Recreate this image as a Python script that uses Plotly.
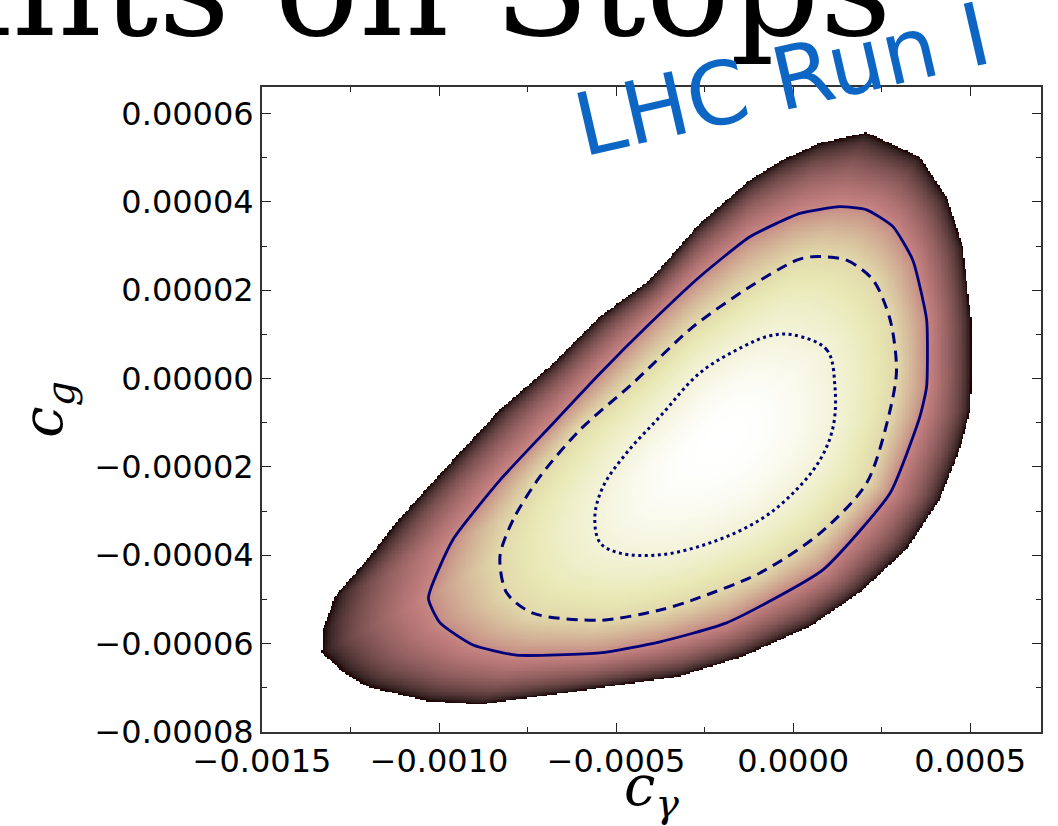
import numpy as np
import plotly.graph_objects as go

# ---------------- data: likelihood regions in the (c_gamma, c_g) plane ----------------
best_fit = (-2.0e-4, -1.4e-5)

# edge of the allowed (shaded) region
edge_cgam = [2.08e-4, 3.58e-4, 4.34e-4, 4.80e-4, 5.04e-4, 5.05e-4, 5.02e-4, 4.71e-4, 4.15e-4,
             3.21e-4, 1.89e-4, 0.48e-4, -1.42e-4, -3.20e-4, -6.40e-4, -8.84e-4, -10.35e-4,
             -12.04e-4, -12.71e-4, -13.31e-4, -13.28e-4, -12.94e-4, -12.04e-4, -11.10e-4,
             -9.69e-4, -8.28e-4, -6.87e-4, -5.45e-4, -4.04e-4, -2.63e-4, -1.22e-4, -0.29e-4,
             0.76e-4]
edge_cg = [5.57e-5, 5.02e-5, 4.12e-5, 2.99e-5, 1.33e-5, 0.19e-5, -0.71e-5, -1.62e-5, -2.75e-5,
           -3.88e-5, -4.85e-5, -5.62e-5, -6.30e-5, -6.75e-5, -7.12e-5, -7.39e-5, -7.31e-5,
           -6.98e-5, -6.66e-5, -6.21e-5, -5.69e-5, -4.94e-5, -4.11e-5, -3.16e-5,
           -1.92e-5, -0.71e-5, 0.27e-5, 1.40e-5, 2.23e-5, 3.51e-5, 4.49e-5, 4.95e-5,
           5.33e-5]

# outer contour (solid)
outer_cgam = [2.08e-4, 2.82e-4, 3.38e-4, 3.77e-4, 3.77e-4, 3.58e-4, 2.74e-4, 0.84e-4, -1.88e-4,
              -3.76e-4, -5.45e-4, -7.81e-4, -9.04e-4, -9.97e-4, -10.30e-4, -9.61e-4, -8.28e-4,
              -6.87e-4, -5.45e-4, -4.04e-4, -2.63e-4, -1.22e-4, 0.19e-4, 1.32e-4]
outer_cg = [3.82e-5, 3.44e-5, 2.68e-5, 1.33e-5, -0.18e-5, -0.86e-5, -2.59e-5, -4.33e-5, -5.53e-5,
            -5.96e-5, -6.21e-5, -6.26e-5, -6.03e-5, -5.53e-5, -4.97e-5, -3.65e-5, -2.30e-5,
            -1.09e-5, 0.12e-5, 1.25e-5, 2.31e-5, 3.21e-5, 3.74e-5, 3.89e-5]

# middle contour (dashed)
middle_cgam = [0.56e-4, 1.51e-4, 2.26e-4, 2.74e-4, 2.92e-4, 2.74e-4, 2.08e-4, 0.76e-4, -0.94e-4,
               -2.83e-4, -3.76e-4, -5.45e-4, -7.35e-4, -8.09e-4, -8.28e-4, -7.91e-4, -7.15e-4,
               -6.02e-4, -4.52e-4, -2.83e-4, -1.22e-4, 0.10e-4]
middle_cg = [2.76e-5, 2.68e-5, 2.23e-5, 1.33e-5, 0.19e-5, -0.71e-5, -2.36e-5, -3.50e-5, -4.40e-5,
             -5.01e-5, -5.24e-5, -5.47e-5, -5.31e-5, -4.85e-5, -4.03e-5, -3.20e-5, -2.22e-5,
             -1.16e-5, -0.10e-5, 1.17e-5, 2.08e-5, 2.68e-5]

# inner contour (dotted)
inner_cgam = [0.00e-4, 0.95e-4, 1.18e-4, 1.13e-4, 0.76e-4, 0.00e-4, -0.94e-4, -2.35e-4, -3.76e-4,
              -4.89e-4, -5.45e-4, -5.60e-4, -5.37e-4, -4.70e-4, -3.76e-4, -2.63e-4, -1.42e-4,
              -0.65e-4]
inner_cg = [0.99e-5, 0.65e-5, -0.18e-5, -1.09e-5, -1.84e-5, -2.59e-5, -3.20e-5, -3.72e-5, -3.99e-5,
            -3.95e-5, -3.72e-5, -3.13e-5, -2.45e-5, -1.68e-5, -0.86e-5, 0.13e-5, 0.72e-5,
            0.97e-5]

# shading value at the best fit, on each contour and on the edge
shade_levels = [1.0, 0.86, 0.68, 0.40, 0.0]

x_range = [-0.0015, 0.0007]
y_range = [-0.00008, 0.000066]

# ---------------- shading field built from the contours ----------------
PX_X = 779 / (x_range[1] - x_range[0])
PX_Y = 645 / (y_range[1] - y_range[0])


def to_px(cx, cy):
    return ((np.asarray(cx) - best_fit[0]) * PX_X,
            (np.asarray(cy) - best_fit[1]) * PX_Y)


def radius_along(cx, cy, theta):
    u, v = to_px(cx, cy)
    u = np.append(u, u[0])
    v = np.append(v, v[0])
    t = np.linspace(0, 1, 60, endpoint=False)
    uu = np.concatenate([u[i] + (u[i + 1] - u[i]) * t for i in range(len(u) - 1)])
    vv = np.concatenate([v[i] + (v[i + 1] - v[i]) * t for i in range(len(v) - 1)])
    ang = np.arctan2(vv, uu)
    rad = np.hypot(uu, vv)
    order = np.argsort(ang)
    return np.interp(theta, ang[order], rad[order], period=2 * np.pi)


gx = np.linspace(x_range[0], x_range[1], 560)
gy = np.linspace(y_range[0], y_range[1], 464)
GX, GY = np.meshgrid(gx, gy)
U, V = to_px(GX, GY)
theta = np.arctan2(V, U)
r2 = U ** 2 + V ** 2

knots = [np.zeros_like(r2),
         radius_along(inner_cgam, inner_cg, theta) ** 2,
         radius_along(middle_cgam, middle_cg, theta) ** 2,
         radius_along(outer_cgam, outer_cg, theta) ** 2,
         radius_along(edge_cgam, edge_cg, theta) ** 2]

field = np.full(r2.shape, np.nan)
for k in range(4):
    lo, hi = knots[k], knots[k + 1]
    m = (r2 >= lo) & (r2 < hi) & np.isnan(field)
    w = (r2[m] - lo[m]) / (hi[m] - lo[m])
    field[m] = shade_levels[k] + (shade_levels[k + 1] - shade_levels[k]) * w
field = field.astype(np.float32)


# ---------------- "pink" colour map ----------------
def pink(t):
    hot = np.clip([t / 0.365079, (t - 0.365079) / 0.380953, (t - 0.746032) / 0.253968], 0, 1)
    rgb = np.sqrt((2 * t + hot) / 3)
    rgb[0] = max(rgb[0], 0.1178)
    return "rgb({:.0f},{:.0f},{:.0f})".format(*(rgb * 255))


pink_scale = [[t, pink(t)] for t in np.linspace(0, 1, 41)]

fig = go.Figure()
fig.add_trace(go.Heatmap(x=gx, y=gy, z=field, colorscale=pink_scale, zmin=0, zmax=1,
                         showscale=False, hoverinfo="skip"))


def closed(a):
    return list(a) + [a[0]]


line_col = "#00007a"
fig.add_trace(go.Scatter(x=closed(outer_cgam), y=closed(outer_cg), mode="lines",
                         line=dict(color=line_col, width=2.8, shape="spline", smoothing=0.5),
                         hoverinfo="skip", showlegend=False))
fig.add_trace(go.Scatter(x=closed(middle_cgam), y=closed(middle_cg), mode="lines",
                         line=dict(color=line_col, width=3, dash="11px,7px", shape="spline",
                                   smoothing=0.8),
                         hoverinfo="skip", showlegend=False))
fig.add_trace(go.Scatter(x=closed(inner_cgam), y=closed(inner_cg), mode="lines",
                         line=dict(color=line_col, width=3, dash="3px,3.5px", shape="spline",
                                   smoothing=1.0),
                         hoverinfo="skip", showlegend=False))

axis_common = dict(
    ticks="inside", ticklen=9, tickwidth=1.3, tickcolor="#222",
    showline=True, linecolor="#333", linewidth=1.8, mirror="allticks",
    showgrid=False, zeroline=False, automargin=False,
    tickfont=dict(family="DejaVu Sans", size=32, color="black"),
)

fig.update_layout(
    width=1058, height=826,
    margin=dict(l=262, r=17, t=87, b=94),
    paper_bgcolor="white", plot_bgcolor="white",
    showlegend=False,
    xaxis=dict(range=[x_range[0] - 1e-9, x_range[1]], tick0=-0.0015, dtick=0.0005,
               tickformat=".4f",
               minor=dict(dtick=0.00025, ticks="inside", ticklen=5, tickwidth=1, tickcolor="#222"),
               title=dict(text="<i>c</i><sub><i>γ</i></sub>",
                          font=dict(family="DejaVu Serif", size=56, color="black"),
                          standoff=2),
               **axis_common),
    yaxis=dict(range=[y_range[0] - 1e-10, y_range[1]], tick0=-0.00008, dtick=0.00002,
               tickformat=".5f",
               minor=dict(dtick=0.00001, ticks="inside", ticklen=5, tickwidth=1, tickcolor="#222"),
               title=dict(text="<i>c</i><sub><i>g</i></sub>",
                          font=dict(family="DejaVu Serif", size=56, color="black"),
                          standoff=14),
               **axis_common),
)

# slide heading above the plot and the hand-written tag
fig.add_annotation(text="Constraints on Stops", xref="paper", yref="paper",
                   x=(894 - 262) / 779, y=(732 + 13) / 645, xanchor="right", yanchor="middle",
                   showarrow=False,
                   font=dict(family="DejaVu Serif", size=140, color="black"))
fig.add_annotation(text="LHC Run I", xref="paper", yref="paper",
                   x=(782 - 262) / 779, y=(732 - 80) / 645, xanchor="center", yanchor="middle",
                   textangle=-13, showarrow=False,
                   font=dict(family="DejaVu Sans", size=87, color="#0d66c4"))

fig.write_html("out.html")
